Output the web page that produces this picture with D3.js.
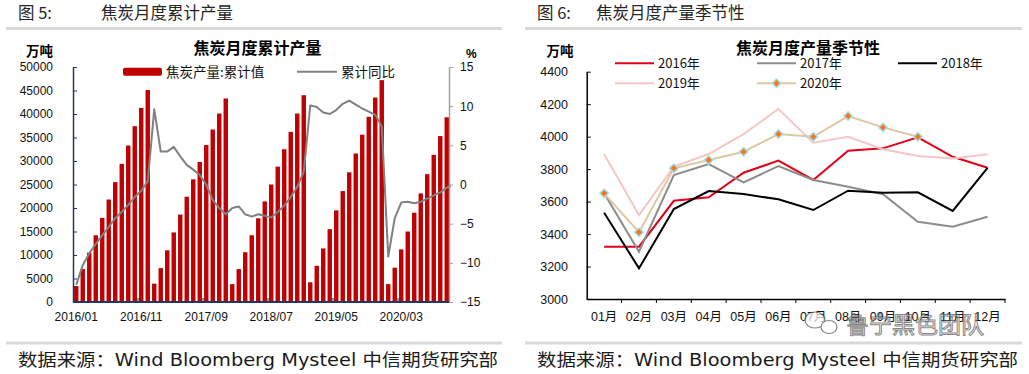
<!DOCTYPE html>
<html>
<head>
<meta charset="utf-8">
<script src="https://cdn.jsdelivr.net/npm/d3@7"></script>
<style>
  body { margin: 0; background: #fff; }
  text { font-family: "Liberation Sans", Arial, "Noto Sans CJK SC", sans-serif; }
  .cjk { font-family: "Noto Sans CJK SC", sans-serif; }
</style>
</head>
<body>
<div id="chart"></div>
<script>
// 图5：焦炭月度累计产量 (万吨) 及累计同比 (%)，2016/01 - 2020/11
var cumOutput = [
  3400, 7000, 10500, 14200, 17900, 21800, 25500, 29400, 33300, 37400, 41300, 45100,
  3900, 7200, 11000, 14800, 18600, 22400, 26100, 29800, 33400, 36700, 40100, 43300,
  3800, 7000, 10600, 14200, 17800, 21400, 25000, 28800, 32500, 36200, 40100, 44000,
  4200, 7700, 11400, 15500, 19500, 23600, 27600, 31600, 35600, 39400, 43500, 47200,
  3800, 7300, 11200, 15000, 19000, 23100, 27200, 31300, 35300, 39300, 43200
];
var cumYoY = [
  -12.8, -10.3, -8.8, -7.6, -6.5, -5.4, -4.3, -3.5, -2.6, -1.6, -0.8, 0.4,
  9.6, 4.2, 4.2, 4.8, 3.6, 2.5, 1.9, 1.2, 0.0, -2.0, -3.0, -3.8,
  -3.0, -2.8, -3.8, -4.1, -3.8, -4.0, -4.2, -3.5, -2.7, -1.6, -0.3, 1.6,
  10.1, 9.9, 9.2, 9.0, 9.5, 10.3, 10.7, 10.2, 9.7, 9.3, 8.9, 7.4,
  -9.2, -4.3, -2.3, -2.2, -2.4, -2.2, -1.8, -1.4, -1.0, -0.4, -0.1
];
var leftTickLabels = ["2016/01", "2016/11", "2017/09", "2018/07", "2019/05", "2020/03"];

// 图6：焦炭月度产量季节性 (万吨)
var seasonMonths = ["01月", "02月", "03月", "04月", "05月", "06月", "07月", "08月", "09月", "10月", "11月", "12月"];
var out2016 = [3322, 3322, 3605, 3626, 3778, 3852, 3733, 3913, 3928, 3996, 3876, 3808];
var out2017 = [3651, 3291, 3763, 3831, 3718, 3819, 3733, 3691, 3645, 3476, 3445, 3507];
var out2018 = [3531, 3189, 3554, 3665, 3646, 3614, 3548, 3667, 3655, 3657, 3542, 3808];
var out2019 = [3893, 3517, 3815, 3893, 4016, 4170, 3963, 3999, 3922, 3881, 3866, 3891];
var out2020 = [3651, 3411, 3805, 3856, 3907, 4016, 3999, 4127, 4057, 3999];

var seasonSeries = [
  { name: "2016年", values: out2016, color: "#e3001b" },
  { name: "2017年", values: out2017, color: "#8c8c8c" },
  { name: "2018年", values: out2018, color: "#000000" },
  { name: "2019年", values: out2019, color: "#f7c6c6" },
  { name: "2020年", values: out2020, color: "#ddc9a3", marker: true }
];

var svg = d3.select("#chart")
  .append("svg")
  .attr("width", 1029)
  .attr("height", 374);

// ---------- panel frames (headers / footers) ----------
function panelFrame(x0, x1, fig, title, titleX) {
  svg.append("text").attr("class", "cjk")
    .attr("x", x0 + 12).attr("y", 19)
    .attr("font-size", 16.5).attr("fill", "#262626")
    .text(fig);
  svg.append("text").attr("class", "cjk")
    .attr("x", titleX).attr("y", 19)
    .attr("font-size", 16.5).attr("fill", "#262626")
    .text(title);
  svg.append("line")
    .attr("x1", x0).attr("x2", x1).attr("y1", 28.5).attr("y2", 28.5)
    .attr("stroke", "#d9d9d9").attr("stroke-width", 3);
  svg.append("line")
    .attr("x1", x0).attr("x2", x1).attr("y1", 343).attr("y2", 343)
    .attr("stroke", "#d9d9d9").attr("stroke-width", 3);
  svg.append("text")
    .attr("x", x0 + 12).attr("y", 366)
    .attr("font-size", 17).attr("fill", "#1a1a1a")
    .style("font-family", "'DejaVu Sans', 'Noto Sans CJK SC', sans-serif")
    .attr("textLength", x1 - x0 - 16).attr("lengthAdjust", "spacingAndGlyphs")
    .text("数据来源：Wind Bloomberg Mysteel 中信期货研究部");
}
panelFrame(6, 502, "图 5:", "焦炭月度累计产量", 101);
panelFrame(525, 1022, "图 6:", "焦炭月度产量季节性", 596);

// ---------- left chart ----------
var months = d3.timeMonth.range(new Date(2016, 0, 1), new Date(2020, 11, 1)).map(d3.timeFormat("%Y/%m"));

var xL = d3.scaleBand()
  .domain(months)
  .range([73, 73 + months.length * 6.5])
  .paddingInner(0.32)
  .paddingOuter(0.16);
var bw = xL.bandwidth();
var y0 = d3.scaleLinear().domain([0, 50000]).range([302, 67]);
var y1 = d3.scaleLinear().domain([-15, 15]).range([302, 67]);

svg.append("clipPath").attr("id", "clipL")
  .append("rect").attr("x", 73).attr("y", 55).attr("width", 378).attr("height", 248);

var plotL = svg.append("g").attr("clip-path", "url(#clipL)");

plotL.selectAll("rect.bar")
  .data(cumOutput)
  .enter()
  .append("rect")
  .attr("class", "bar")
  .attr("x", (d, i) => xL(months[i]))
  .attr("y", d => y0(d))
  .attr("width", bw)
  .attr("height", d => y0(0) - y0(d))
  .attr("fill", "#c00000");

var yoyLine = d3.line()
  .x((d, i) => xL(months[i]) + bw / 2)
  .y(d => y1(d));

plotL.append("path")
  .datum(cumYoY)
  .attr("d", yoyLine)
  .attr("fill", "none")
  .attr("stroke", "#808080")
  .attr("stroke-width", 2)
  .attr("stroke-linejoin", "round");

// left axis (万吨)
var axL = svg.append("g")
  .attr("transform", "translate(73,0)")
  .call(d3.axisLeft(y0).tickValues(d3.range(0, 50001, 5000)).tickSize(-4).tickSizeOuter(0).tickPadding(20).tickFormat(d3.format("d")));
axL.select(".domain").attr("stroke", "#1f3864").attr("stroke-width", 1.5);
axL.selectAll(".tick line").attr("stroke", "#1f3864");
axL.selectAll(".tick text").attr("font-size", 12).attr("fill", "#111");

// right axis (%)
var axR = svg.append("g")
  .attr("transform", "translate(449,0)")
  .call(d3.axisRight(y1).tickValues(d3.range(-15, 16, 5)).tickSize(4).tickSizeOuter(0).tickPadding(7));
axR.select(".domain").attr("stroke", "#a0a0a0").attr("stroke-width", 1.5);
axR.selectAll(".tick line").attr("stroke", "#a0a0a0");
axR.selectAll(".tick text").attr("font-size", 12).attr("fill", "#111");

// bottom axis
var axB = svg.append("g")
  .attr("transform", "translate(0,302)")
  .call(d3.axisBottom(xL).tickValues(leftTickLabels).tickSize(0).tickPadding(10.5));
axB.select(".domain").remove();
axB.selectAll(".tick text").attr("font-size", 12).attr("fill", "#111");
svg.append("line")
  .attr("x1", 73).attr("x2", 449).attr("y1", 302).attr("y2", 302)
  .attr("stroke", "#1f3864").attr("stroke-width", 2);
svg.selectAll("line.xtickL")
  .data(leftTickLabels.slice(1))
  .enter()
  .append("line")
  .attr("class", "xtickL")
  .attr("x1", d => xL(d) - xL.step() * 0.16)
  .attr("x2", d => xL(d) - xL.step() * 0.16)
  .attr("y1", 302).attr("y2", 298)
  .attr("stroke", "#1f3864");

// titles and units
svg.append("text").attr("class", "cjk")
  .attr("x", 257.5).attr("y", 54).attr("text-anchor", "middle")
  .attr("font-size", 16).attr("font-weight", 700).attr("fill", "#000")
  .text("焦炭月度累计产量");
svg.append("text").attr("class", "cjk")
  .attr("x", 26).attr("y", 56)
  .attr("font-size", 13.5).attr("font-weight", 700).attr("fill", "#000")
  .text("万吨");
svg.append("text")
  .attr("x", 466).attr("y", 58)
  .attr("font-size", 12).attr("font-weight", 700).attr("fill", "#000")
  .text("%");

// legend
svg.append("rect")
  .attr("x", 123).attr("y", 67.7).attr("width", 39).attr("height", 8).attr("rx", 2)
  .attr("fill", "#c00000");
svg.append("text").attr("class", "cjk")
  .attr("x", 166).attr("y", 77).attr("font-size", 13.5).attr("fill", "#111")
  .text("焦炭产量:累计值");
svg.append("line")
  .attr("x1", 297).attr("x2", 337).attr("y1", 71.7).attr("y2", 71.7)
  .attr("stroke", "#808080").attr("stroke-width", 2);
svg.append("text").attr("class", "cjk")
  .attr("x", 341).attr("y", 77).attr("font-size", 13.5).attr("fill", "#111")
  .text("累计同比");

// ---------- right chart ----------
var xS = d3.scaleBand().domain(seasonMonths).range([586.7, 1005]);
var yS = d3.scaleLinear().domain([3000, 4400]).range([299, 71.7]);
var sbw = xS.bandwidth();

var axSL = svg.append("g")
  .attr("transform", "translate(586.7,0)")
  .call(d3.axisLeft(yS).tickValues(d3.range(3000, 4401, 200)).tickSize(-4).tickSizeOuter(0).tickPadding(18.7).tickFormat(d3.format("d")));
axSL.select(".domain").attr("stroke", "#000").attr("stroke-width", 1.5);
axSL.selectAll(".tick text").attr("font-size", 12.5).attr("fill", "#111");

var axSB = svg.append("g")
  .attr("transform", "translate(0,299)")
  .call(d3.axisBottom(xS).tickSize(0).tickPadding(13));
axSB.select(".domain").attr("stroke", "#000").attr("stroke-width", 1.5);
axSB.selectAll(".tick text").attr("font-size", 12.5).attr("fill", "#111");
svg.selectAll("line.xtickS")
  .data(seasonMonths)
  .enter()
  .append("line")
  .attr("class", "xtickS")
  .attr("x1", d => xS(d) + sbw)
  .attr("x2", d => xS(d) + sbw)
  .attr("y1", 299).attr("y2", 303)
  .attr("stroke", "#000");

var seasonLine = d3.line()
  .x((d, i) => xS(seasonMonths[i]) + sbw / 2)
  .y(d => yS(d));

seasonSeries.forEach(function(s) {
  svg.append("path")
    .datum(s.values)
    .attr("d", seasonLine)
    .attr("fill", "none")
    .attr("stroke", s.color)
    .attr("stroke-width", 2);
  if (s.marker) {
    svg.selectAll("path.mk")
      .data(s.values)
      .enter()
      .append("path")
      .attr("class", "mk")
      .attr("d", d3.symbol(d3.symbolSquare, 36))
      .attr("transform", (d, i) => `translate(${xS(seasonMonths[i]) + sbw / 2},${yS(d)}) rotate(45)`)
      .attr("fill", "#f27a1a")
      .attr("stroke", "#a8dceb")
      .attr("stroke-width", 1.5);
  }
});

svg.append("text").attr("class", "cjk")
  .attr("x", 808).attr("y", 54).attr("text-anchor", "middle")
  .attr("font-size", 16).attr("font-weight", 700).attr("fill", "#000")
  .text("焦炭月度产量季节性");
svg.append("text").attr("class", "cjk")
  .attr("x", 546.5).attr("y", 56)
  .attr("font-size", 13.5).attr("font-weight", 700).attr("fill", "#000")
  .text("万吨");

// legend (3 columns, 2 rows)
var legX = [615, 757, 898];
seasonSeries.forEach(function(s, i) {
  var lx = legX[i % 3];
  var ly = i < 3 ? 63.3 : 83.3;
  svg.append("line")
    .attr("x1", lx).attr("x2", lx + 39).attr("y1", ly).attr("y2", ly)
    .attr("stroke", s.color).attr("stroke-width", 2);
  if (s.marker) {
    svg.append("path")
      .attr("d", d3.symbol(d3.symbolSquare, 36))
      .attr("transform", `translate(${lx + 19.5},${ly}) rotate(45)`)
      .attr("fill", "#f27a1a").attr("stroke", "#a8dceb").attr("stroke-width", 1.5);
  }
  svg.append("text").attr("class", "cjk")
    .attr("x", lx + 43).attr("y", ly + 5)
    .attr("font-size", 13).attr("fill", "#111")
    .text(s.name);
});

// watermark (overlaps the month labels, as in the source)
var wm = svg.append("g").attr("opacity", 0.7);
wm.append("ellipse").attr("cx", 815).attr("cy", 320).attr("rx", 10).attr("ry", 8)
  .attr("fill", "#fff").attr("stroke", "#555").attr("stroke-width", 1.2);
wm.append("ellipse").attr("cx", 829).attr("cy", 327).attr("rx", 8).attr("ry", 6.5)
  .attr("fill", "#fff").attr("stroke", "#555").attr("stroke-width", 1.2);
wm.append("text").attr("class", "cjk")
  .attr("x", 846).attr("y", 333)
  .attr("font-size", 23).attr("fill", "#fff").attr("stroke", "#555").attr("stroke-width", 1)
  .text("鲁宁黑色团队");
</script>
</body>
</html>
